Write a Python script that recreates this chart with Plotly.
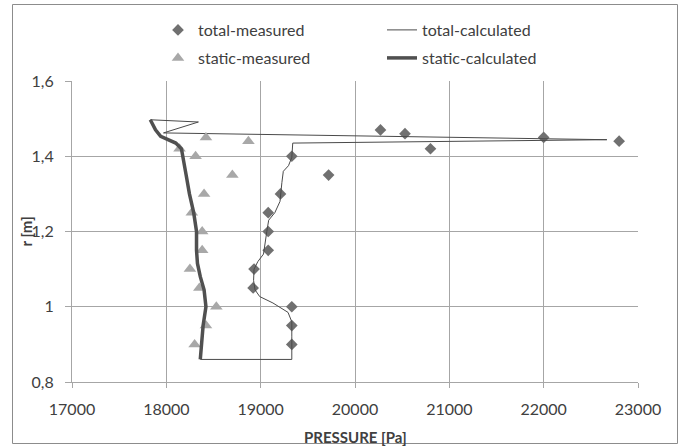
import plotly.graph_objects as go

# ---- data ----
total_meas_p = [20270, 20530, 20800, 22000, 22800, 19720, 19330, 19210, 19080, 19080,
                19080, 18930, 18920, 19330, 19330, 19330]
total_meas_r = [1.47, 1.46, 1.42, 1.45, 1.44, 1.35, 1.40, 1.30, 1.25, 1.20,
                1.15, 1.10, 1.05, 1.00, 0.95, 0.90]

static_meas_p = [18420, 18870, 18140, 18310, 18700, 18400, 18270, 18380, 18380, 18250,
                 18350, 18530, 18420, 18300]
static_meas_r = [1.45, 1.44, 1.42, 1.40, 1.35, 1.30, 1.25, 1.20, 1.15, 1.10,
                 1.05, 1.00, 0.95, 0.90]

static_calc_p = [18360, 18370, 18390, 18420, 18400, 18360, 18330, 18320, 18320, 18290,
                 18245, 18210, 18180, 18160, 18100, 18010, 17940, 17885, 17840, 17830]
static_calc_r = [0.86, 0.89, 0.95, 1.00, 1.045, 1.08, 1.115, 1.15, 1.20, 1.25,
                 1.30, 1.35, 1.40, 1.42, 1.435, 1.444, 1.453, 1.47, 1.49, 1.497]

total_calc_p = [18360, 19330, 19330, 19330, 19290, 19130, 18990, 18940, 18925, 18930,
                18970, 19030, 19065, 19085, 19150, 19205, 19225, 19240, 19295, 19330,
                19340, 22670, 17970, 18340, 17830]
total_calc_r = [0.86, 0.86, 0.92, 0.96, 0.985, 1.01, 1.027, 1.045, 1.07, 1.10,
                1.12, 1.14, 1.20, 1.23, 1.25, 1.28, 1.33, 1.36, 1.375, 1.397,
                1.435, 1.444, 1.462, 1.491, 1.497]

x_ticks = [17000, 18000, 19000, 20000, 21000, 22000, 23000]
y_ticks = [0.8, 1.0, 1.2, 1.4, 1.6]

FONT = "Lato"
TXT = "#404040"
GRID = "#a6a6a6"

fig = go.Figure()
fig.add_trace(go.Scatter(x=total_meas_p, y=total_meas_r, mode="markers", name="total-measured",
                         marker=dict(symbol="diamond", size=9, color="#707070"), legend="legend"))
fig.add_trace(go.Scatter(x=total_calc_p, y=total_calc_r, mode="lines", name="total-calculated",
                         line=dict(color="#4a4a4a", width=1), legend="legend"))
fig.add_trace(go.Scatter(x=static_meas_p, y=static_meas_r, mode="markers", name="static-measured",
                         marker=dict(symbol="triangle-up", size=11, color="#a8a8a8"), legend="legend2"))
fig.add_trace(go.Scatter(x=static_calc_p, y=static_calc_r, mode="lines", name="static-calculated",
                         line=dict(color="#505050", width=3.5), legend="legend2"))

W, H = 686, 447
L, R, T, B = 72, 48, 81, 65
pw, ph = W - L - R, H - T - B

def px2paper_x(px):
    return (px - L) / pw

def px2paper_y(py):
    return (H - B - py) / ph

LEG_FS = 16
leg_common = dict(orientation="h", xref="paper", yref="paper", xanchor="left",
                  yanchor="middle", entrywidth=179, bgcolor="rgba(0,0,0,0)",
                  font=dict(family=FONT, size=LEG_FS, color=TXT))

fig.update_layout(
    width=W, height=H,
    margin=dict(l=L, r=R, t=T, b=B),
    paper_bgcolor="white", plot_bgcolor="white",
    separators=",.",
    font=dict(family=FONT, size=16, color=TXT),
    legend=dict(x=px2paper_x(158), y=px2paper_y(30), **leg_common),
    legend2=dict(x=px2paper_x(158), y=px2paper_y(58), **leg_common),
    xaxis=dict(range=[17000, 23000], tickvals=x_ticks, tickformat="d",
               showgrid=True, gridcolor=GRID, gridwidth=1,
               showline=True, linecolor=GRID, linewidth=1,
               ticks="outside", ticklen=5, tickcolor=GRID, zeroline=False,
               ticklabelstandoff=8,
               tickfont=dict(family=FONT, size=16, color=TXT)),
    yaxis=dict(range=[0.8, 1.6], tickvals=y_ticks,
               showgrid=True, gridcolor=GRID, gridwidth=1,
               showline=True, linecolor=GRID, linewidth=1,
               ticks="outside", ticklen=6, tickcolor=GRID, zeroline=False,
               ticklabelstandoff=8,
               tickfont=dict(family=FONT, size=16, color=TXT)),
    annotations=[
        dict(text="<b>PRESSURE [Pa]</b>", xref="paper", yref="paper",
             x=0.5, y=px2paper_y(436.5), showarrow=False, xanchor="center", yanchor="middle",
             font=dict(family=FONT, size=15, color=TXT)),
        dict(text="<b>r [m]</b>", xref="paper", yref="paper", textangle=-90,
             x=px2paper_x(25), y=0.5, showarrow=False, xanchor="center", yanchor="middle",
             font=dict(family=FONT, size=15, color=TXT)),
    ],
    shapes=[dict(type="rect", xref="paper", yref="paper",
                 x0=px2paper_x(12.5), x1=px2paper_x(677.5),
                 y0=px2paper_y(443.5), y1=px2paper_y(4.5),
                 line=dict(color="#8c8c8c", width=1), layer="below")],
)

fig.write_html("out.html", config={"displayModeBar": False},
               post_script="document.body.style.margin='0';")
